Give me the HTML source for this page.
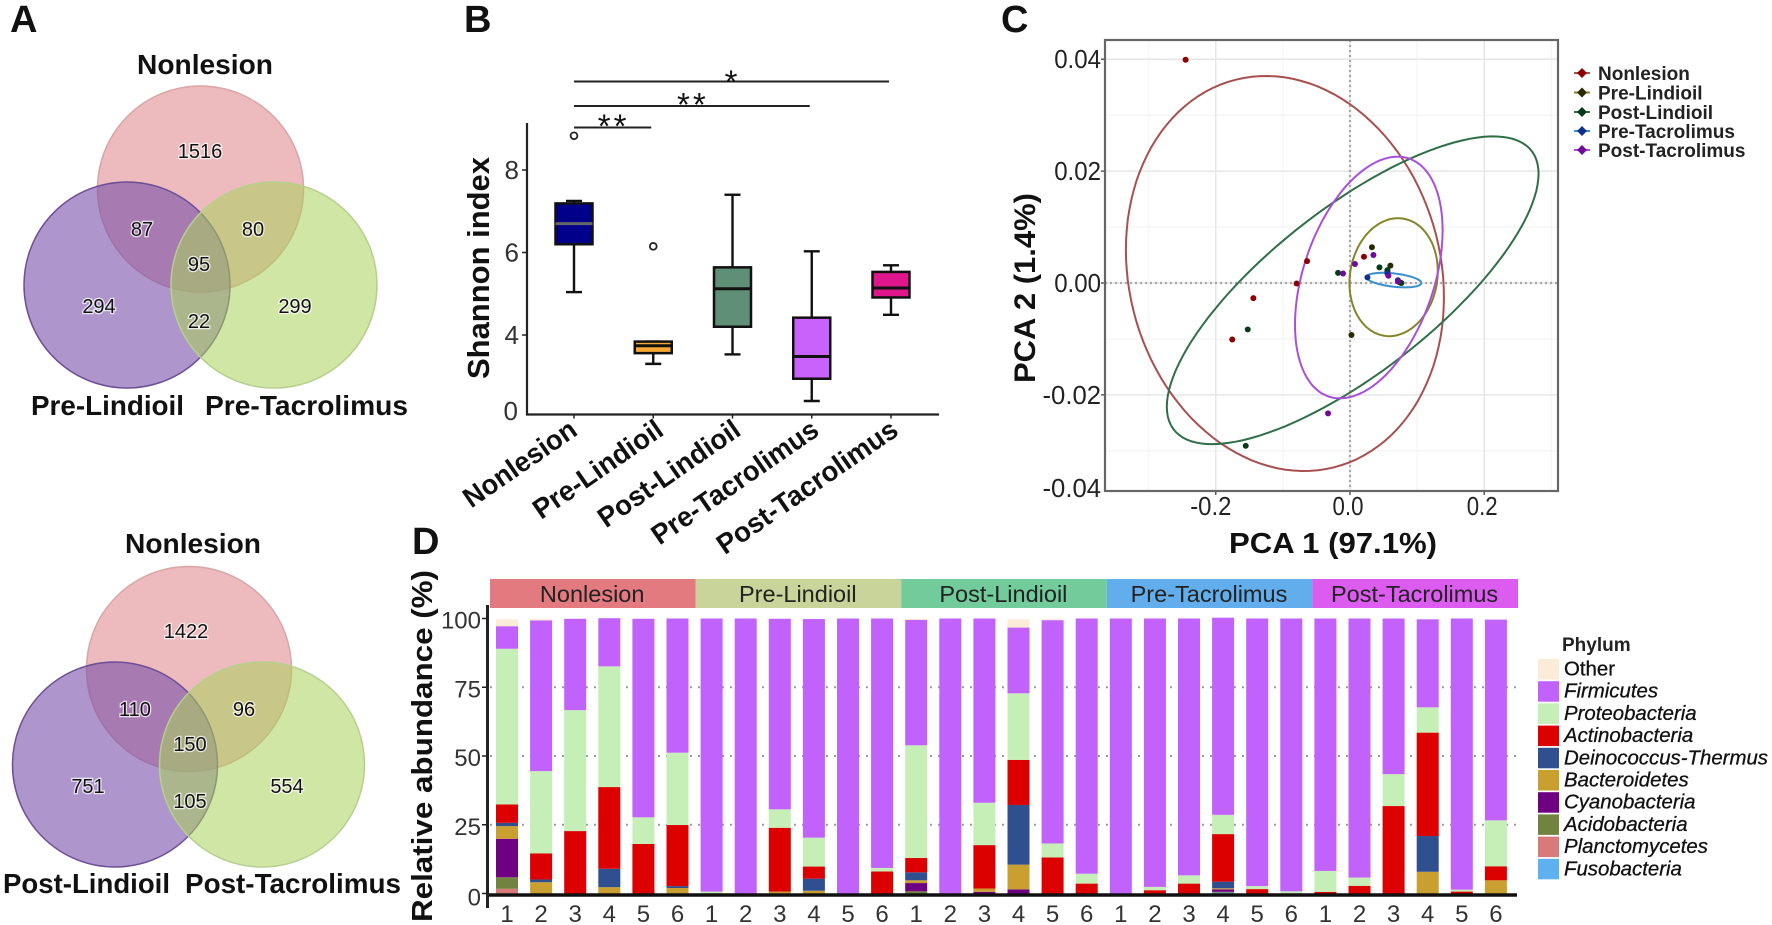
<!DOCTYPE html>
<html lang="en">
<head>
<meta charset="utf-8">
<title>Skin microbiome figure</title>
<style>
html,body{margin:0;padding:0;background:#fff;}
svg{display:block;font-family:"Liberation Sans",sans-serif;}
.panel{font-weight:bold;font-size:38px;fill:#111;}
.vt{font-weight:bold;font-size:28px;fill:#111;}
.vn{font-size:20px;fill:#111;text-anchor:middle;stroke:#fff;stroke-width:2.5px;paint-order:stroke;stroke-opacity:.75;}
</style>
</head>
<body>
<svg id="fig" xmlns="http://www.w3.org/2000/svg" width="1772" height="925" viewBox="0 0 1772 925">
  <text class="panel" x="10" y="32">A</text>
  <text class="panel" x="464" y="32">B</text>
  <text class="panel" x="1001" y="32">C</text>
  <text class="panel" x="412" y="554">D</text>

  <g>
    <circle cx="200.5" cy="189" r="103" fill="rgb(220,120,125)" fill-opacity=".5" stroke="#d9a5a5" stroke-width="1.5"/>
    <circle cx="127" cy="285" r="103" fill="rgb(120,80,170)" fill-opacity=".6" stroke="#6d4f96" stroke-width="1.5"/>
    <circle cx="274" cy="285" r="103" fill="rgb(170,210,90)" fill-opacity=".55" stroke="#b7cf8d" stroke-width="1.5"/>
    <text class="vt" x="205" y="74" text-anchor="middle" textLength="136" lengthAdjust="spacingAndGlyphs">Nonlesion</text>
    <text class="vt" x="31" y="415" textLength="153" lengthAdjust="spacingAndGlyphs">Pre-Lindioil</text>
    <text class="vt" x="205" y="415" textLength="203" lengthAdjust="spacingAndGlyphs">Pre-Tacrolimus</text>
    <text class="vn" x="200" y="158">1516</text>
    <text class="vn" x="142" y="236">87</text>
    <text class="vn" x="253" y="236">80</text>
    <text class="vn" x="199" y="271">95</text>
    <text class="vn" x="99" y="313">294</text>
    <text class="vn" x="199" y="328">22</text>
    <text class="vn" x="295" y="313">299</text>
  </g>

  <g>
    <circle cx="189" cy="669" r="102.5" fill="rgb(220,120,125)" fill-opacity=".5" stroke="#d9a5a5" stroke-width="1.5"/>
    <circle cx="115" cy="764.5" r="102.5" fill="rgb(120,80,170)" fill-opacity=".6" stroke="#6d4f96" stroke-width="1.5"/>
    <circle cx="262" cy="764.5" r="102.5" fill="rgb(170,210,90)" fill-opacity=".55" stroke="#b7cf8d" stroke-width="1.5"/>
    <text class="vt" x="193" y="553" text-anchor="middle" textLength="136" lengthAdjust="spacingAndGlyphs">Nonlesion</text>
    <text class="vt" x="3" y="893" textLength="167" lengthAdjust="spacingAndGlyphs">Post-Lindioil</text>
    <text class="vt" x="185" y="893" textLength="216" lengthAdjust="spacingAndGlyphs">Post-Tacrolimus</text>
    <text class="vn" x="186" y="638">1422</text>
    <text class="vn" x="135" y="716">110</text>
    <text class="vn" x="244" y="716">96</text>
    <text class="vn" x="190" y="751">150</text>
    <text class="vn" x="88" y="793">751</text>
    <text class="vn" x="190" y="808">105</text>
    <text class="vn" x="287" y="793">554</text>
  </g>

  <g id="chartB"></g>
  <g id="chartC"></g>
  <g id="chartD"></g>
</svg>

<script>
/* ---------- Panel B data ---------- */
var boxGroups = ['Nonlesion','Pre-Lindioil','Post-Lindioil','Pre-Tacrolimus','Post-Tacrolimus'];
var boxWhiskerHigh = [7.25,3.84,7.4,6.03,5.69];
var boxQ3 = [7.19,3.84,5.64,4.42,5.53];
var boxMedian = [6.7,3.74,5.12,3.48,5.14];
var boxQ1 = [6.2,3.56,4.2,2.94,4.91];
var boxWhiskerLow = [5.04,3.3,3.53,2.4,4.49];
var boxOutliers = [8.83,6.15,null,null,null];
var boxFills = ['#00008b','#f5a833','#5f8f77','#c862fa','#e0178c'];
var boxTicks = [8,6,4];
var boxBaseLabel = '0';
var sigFrom = [0,0,0];
var sigTo = [4,3,1];
var sigStars = ['*','**','**'];

/* ---------- Panel C data ---------- */
var pcaGroups = ['Nonlesion','Pre-Lindioil','Post-Lindioil','Pre-Tacrolimus','Post-Tacrolimus'];
var pcaLineColors = ['#a8504e','#85852c','#2f6f47','#3a8fd0','#a850d8'];
var pcaPointColors = ['#8b0000','#2a2a00','#063a1a','#10308a','#700a9a'];
var nonlesionX = [-0.245,-0.064,-0.0796,-0.144,-0.1755,0.0208];
var nonlesionY = [0.0399,0.0039,-0.0001,-0.0027,-0.0101,0.0047];
var preLindioilX = [0.0327,0.0602,0.0022,0.0558,0.0743];
var preLindioilY = [0.0064,0.0031,-0.0093,0.0021,0.0001];
var postLindioilX = [-0.0178,0.0439,-0.1524,-0.1554,0.0558,0.0766];
var postLindioilY = [0.0018,0.0028,-0.0083,-0.0291,0.0023,0];
var preTacrolimusX = [0.026,0.0714,0.0558];
var preTacrolimusY = [0.001,0.0005,0.0017];
var postTacrolimusX = [-0.0104,0.0349,0.0074,-0.0327,0.0572,0.0714];
var postTacrolimusY = [0.0017,0.005,0.0034,-0.0233,0.0013,0.0003];
var ellipseCenterX = [-0.097,0.065,0.004,0.0654,0.028];
var ellipseCenterY = [0.0017,0.00104,-0.0013,0.00052,0.00098];
var ellipseSpreadX = [0.237,0.0658,0.277,0.0409,0.11];
var ellipseSpreadY = [0.0353,0.01054,0.0275,0.0013,0.0216];
var ellipseCorr = [-0.12,0.1,0.757,-0.4,0.39];
var pcaXTicks = [-0.2,0,0.2];
var pcaXTickLabels = ['-0.2','0.0','0.2'];
var pcaXMinor = [-0.3,-0.1,0.1,0.3];
var pcaYTicks = [0.04,0.02,0,-0.02,-0.04];
var pcaYTickLabels = ['0.04','0.02','0.00','-0.02','-0.04'];
var pcaYMinor = [0.03,0.01,-0.01,-0.03];

/* ---------- Panel D data ---------- */
var facetNames = ['Nonlesion','Pre-Lindioil','Post-Lindioil','Pre-Tacrolimus','Post-Tacrolimus'];
var facetColors = ['#e27a80','#c8d49a','#72cb9b','#62aeec','#dc5cf0'];
var sampleLabels = ['1','2','3','4','5','6'];
var abundanceTicks = [100,75,50,25,0];
var phylumNames = ['Other','Firmicutes','Proteobacteria','Actinobacteria','Deinococcus-Thermus','Bacteroidetes','Cyanobacteria','Acidobacteria','Planctomycetes','Fusobacteria'];
var phylumColors = ['#faecd6','#c062fb','#c5efb7','#dc0000','#2f4f8f','#c9a02f','#6f0082','#71843f','#d97a7a','#5fb0ee'];
var other =          [2.5,.6,0,0,0,0, 0,0,0,0,0,0, .5,0,0,3,.5,0, 0,0,0,0,0,0, 0,0,0,0,0,0];
var firmicutes =     [8.2,54.8,33.2,17.5,72.2,48.8, 99.3,100,69.3,79.5,100,90.7, 45.6,100,67,23.9,81.2,92.8, 100,97.6,93.4,71.7,97.3,99.2, 91.8,94.2,56.6,32,98.6,73];
var proteobacteria = [56.6,29.9,44,43.9,9.7,26.3, .7,0,6.7,10.5,0,1.3, 41,0,15.4,24.2,5.1,3.6, 0,1.2,3,7,1.1,.8, 7.6,3,11.6,9.2,.7,16.7];
var actinobacteria = [6.7,9.5,22.7,29.7,18,22.2, 0,0,23.2,4.4,0,8, 5.2,0,15.8,16.4,13.1,3.6, 0,1.2,3.6,17.3,1.6,0, .6,2.8,31.8,37.6,.7,5.1];
var deinococcus =    [1.2,1,0,6.7,0,.7, 0,0,0,4.4,0,0, 2.9,0,0,21.7,0,0, 0,0,0,2.4,0,0, 0,0,0,13,0,0];
var bacteroidetes =  [4.6,4.1,0,2.3,0,2, 0,0,.7,1,0,0, 1,0,1.2,9,0,0, 0,0,0,.4,0,0, 0,0,0,7.9,0,4.8];
var cyanobacteria =  [14,0,0,0,0,0, 0,0,0,0,0,0, 3,0,.6,1.5,0,0, 0,0,0,.9,0,0, 0,0,0,0,0,0];
var acidobacteria =  [4.2,0,0,0,0,0, 0,0,0,0,0,0, .8,0,0,0,0,0, 0,0,0,.3,0,0, 0,0,0,0,0,0];
var planctomycetes = [1.7,0,0,0,0,0, 0,0,0,0,0,0, 0,0,0,0,0,0, 0,0,0,0,0,0, 0,0,0,0,0,0];
var fusobacteria =   [0,0,0,0,0,0, 0,0,0,0,0,0, 0,0,0,0,0,0, 0,0,0,.3,0,0, 0,0,0,0,0,0];

var NS = 'http://www.w3.org/2000/svg';
function mk(tag, attrs, parent, text) {
  var n = document.createElementNS(NS, tag);
  for (var k in attrs) { n.setAttribute(k, attrs[k]); }
  if (text !== undefined) { n.textContent = text; }
  parent.appendChild(n);
  return n;
}

/* ========== Panel B ========== */
(function () {
  var g = document.getElementById('chartB');
  function bx(i) { return 574 + i * 79.25; }
  function by(v) { return 170 + (8 - v) * 41.25; }
  var axisY = 414.5;
  var yAxis = mk('line', {x1:527,y1:123,x2:527,y2:axisY+1,stroke:'#222','stroke-width':2.2}, g);
  
  
  var xAxis = mk('line', {x1:526,y1:axisY,x2:939,y2:axisY,stroke:'#222','stroke-width':2.2}, g);
  
  
  boxTicks.forEach(function (t) {
    var m = mk('line', {x1:522,y1:by(t),x2:527,y2:by(t),stroke:'#222','stroke-width':1.5}, g);
    
    
    var l = mk('text', {x:519,y:by(t)+9,'text-anchor':'end','font-size':26,fill:'#333'}, g, String(t));
    
    
  });
  var base = mk('text', {x:518,y:axisY+5.5,'text-anchor':'end','font-size':26,fill:'#333'}, g, boxBaseLabel);
  
  
  var title = mk('text', {transform:'translate(489,268) rotate(-90)','text-anchor':'middle','font-size':31,'font-weight':'bold',fill:'#111',textLength:222,lengthAdjust:'spacingAndGlyphs'}, g, 'Shannon index');
  
  

  var lens = [131,151,166,196,213];
  var endShift = [5,12,10,9,9];
  boxGroups.forEach(function (name, i) {
    var c = bx(i), w = 18.5, cap = 8;
    var whisk = mk('line', {x1:c,y1:by(boxWhiskerHigh[i]),x2:c,y2:by(boxWhiskerLow[i]),stroke:'#111','stroke-width':2.4}, g);
    
    
    var capHi = mk('line', {x1:c-cap,y1:by(boxWhiskerHigh[i]),x2:c+cap,y2:by(boxWhiskerHigh[i]),stroke:'#111','stroke-width':2.4}, g);
    
    
    var capLo = mk('line', {x1:c-cap,y1:by(boxWhiskerLow[i]),x2:c+cap,y2:by(boxWhiskerLow[i]),stroke:'#111','stroke-width':2.4}, g);
    
    
    var box = mk('rect', {x:c-w,y:by(boxQ3[i]),width:2*w,height:by(boxQ1[i])-by(boxQ3[i]),fill:boxFills[i],stroke:'#111','stroke-width':2.5}, g);
    
    
    var med = mk('line', {x1:c-w,y1:by(boxMedian[i]),x2:c+w,y2:by(boxMedian[i]),stroke:i===0?'#666':'#111','stroke-width':3}, g);
    
    
    if (boxOutliers[i] !== null) {
      var o = mk('circle', {cx:c,cy:by(boxOutliers[i]),r:3.4,fill:'#fff',stroke:'#222','stroke-width':1.8}, g);
      
      
    }
    var tick = mk('line', {x1:c,y1:axisY,x2:c,y2:axisY+4,stroke:'#222','stroke-width':1.5}, g);
    
    
    var ex = c + endShift[i], ey = 434;
    var lab = mk('text', {transform:'translate('+ex+','+ey+') rotate(-34.7)','text-anchor':'end','font-size':28,'font-weight':'bold',fill:'#111',textLength:lens[i],lengthAdjust:'spacingAndGlyphs'}, g, name);
    
    
  });

  var sigY = [81.5,106,127.5];
  var starDrop = [12,10,10];
  sigFrom.forEach(function (f, i) {
    var x1 = bx(f), x2 = bx(sigTo[i]) - 2;
    var ln = mk('line', {x1:x1,y1:sigY[i],x2:x2,y2:sigY[i],stroke:'#222','stroke-width':2}, g);
    
    
    var st = mk('text', {x:(x1+x2)/2+1,y:sigY[i]+starDrop[i],'text-anchor':'middle','font-size':33,'letter-spacing':'3px',fill:'#111'}, g, sigStars[i]);
    
    
  });
})();

/* ========== Panel C ========== */
(function () {
  var g = document.getElementById('chartC');
  var L = 1105, R = 1558, T = 40, B = 491;
  function cx(v) { return 1350 + v * 671; }
  function cy(v) { return 283 - v * 5595; }
  var bg = mk('rect', {x:L,y:T,width:R-L,height:B-T,fill:'#fff'}, g);
  
  
  pcaXMinor.forEach(function (t) {
    var n = mk('line', {x1:cx(t),y1:T,x2:cx(t),y2:B,stroke:'#f3f3f3','stroke-width':1}, g);
    
    
  });
  pcaYMinor.forEach(function (t) {
    var n = mk('line', {x1:L,y1:cy(t),x2:R,y2:cy(t),stroke:'#f0f0f0','stroke-width':1}, g);
    
    
  });
  pcaXTicks.forEach(function (t, i) {
    var n = mk('line', {x1:cx(t),y1:T,x2:cx(t),y2:B,stroke:'#e6e6e6','stroke-width':1.5}, g);
    
    
    var m = mk('line', {x1:cx(t),y1:B,x2:cx(t),y2:B+4,stroke:'#333','stroke-width':1.2}, g);
    
    
    var l = mk('text', {x:cx(t)-(t<0?5:2),y:515,'text-anchor':'middle','font-size':26,fill:'#222',textLength:pcaXTickLabels[i].length*10.3,lengthAdjust:'spacingAndGlyphs'}, g, pcaXTickLabels[i]);
    
    
  });
  pcaYTicks.forEach(function (t, i) {
    var py = Math.min(cy(t), 488);
    if (cy(t) < B) {
      var n = mk('line', {x1:L,y1:cy(t),x2:R,y2:cy(t),stroke:'#e6e6e6','stroke-width':1.5}, g);
      
      
      var m = mk('line', {x1:L-4,y1:cy(t),x2:L,y2:cy(t),stroke:'#333','stroke-width':1.2}, g);
      
      
    }
    var l = mk('text', {x:1101,y:py+9,'text-anchor':'end','font-size':26,fill:'#222',textLength:pcaYTickLabels[i].length*11.7,lengthAdjust:'spacingAndGlyphs'}, g, pcaYTickLabels[i]);
    
    
  });
  var z1 = mk('line', {x1:cx(0),y1:T,x2:cx(0),y2:B,stroke:'#a8a8a8','stroke-width':2.2,'stroke-dasharray':'2 3'}, g);
  
  
  var z2 = mk('line', {x1:L,y1:cy(0),x2:R,y2:cy(0),stroke:'#a8a8a8','stroke-width':2.2,'stroke-dasharray':'2 3'}, g);
  
  

  pcaGroups.forEach(function (name, i) {
    var d = '', th = Math.acos(ellipseCorr[i]);
    for (var s = 0; s < 120; s++) {
      var t = s / 120 * 2 * Math.PI;
      var vx = ellipseCenterX[i] + ellipseSpreadX[i] * Math.cos(t);
      var vy = ellipseCenterY[i] + ellipseSpreadY[i] * Math.cos(t - th);
      d += (s ? 'L' : 'M') + cx(vx).toFixed(1) + ' ' + cy(vy).toFixed(1);
    }
    var e = mk('path', {d:d + 'Z',fill:'none',stroke:pcaLineColors[i],'stroke-width':2}, g);
    
    
  });

  var seriesX = [nonlesionX,preLindioilX,postLindioilX,preTacrolimusX,postTacrolimusX];
  var seriesY = [nonlesionY,preLindioilY,postLindioilY,preTacrolimusY,postTacrolimusY];
  seriesX.forEach(function (xs, i) {
    xs.forEach(function (v, j) {
      var p = mk('circle', {cx:cx(v),cy:cy(seriesY[i][j]),r:3,fill:pcaPointColors[i]}, g);
      
      
    });
  });

  var frame = mk('rect', {x:L,y:T,width:R-L,height:B-T,fill:'none',stroke:'#666','stroke-width':2.2}, g);
  
  
  var xt = mk('text', {x:1333,y:553,'text-anchor':'middle','font-size':29,'font-weight':'bold',fill:'#111',textLength:208,lengthAdjust:'spacingAndGlyphs'}, g, 'PCA 1 (97.1%)');
  
  
  var yt = mk('text', {transform:'translate(1035,288) rotate(-90)','text-anchor':'middle','font-size':30,'font-weight':'bold',fill:'#111',textLength:190,lengthAdjust:'spacingAndGlyphs'}, g, 'PCA 2 (1.4%)');
  
  

  var ly = [73,92.5,112,131,150];
  pcaGroups.forEach(function (name, i) {
    var k = mk('line', {x1:1574,y1:ly[i],x2:1590,y2:ly[i],stroke:pcaLineColors[i],'stroke-width':2}, g);
    
    
    var dm = mk('rect', {x:1578.5,y:ly[i]-3.5,width:7,height:7,fill:pcaPointColors[i],transform:'rotate(45 1582 '+ly[i]+')'}, g);
    
    
    var tx = mk('text', {x:1598,y:ly[i]+7,'font-size':19,'font-weight':'bold',fill:'#222'}, g, name);
    
    
  });
})();

/* ========== Panel D ========== */
(function () {
  var g = document.getElementById('chartD');
  var stackOrder = [fusobacteria,planctomycetes,acidobacteria,cyanobacteria,bacteroidetes,deinococcus,actinobacteria,proteobacteria,firmicutes,other];
  var stackColors = phylumColors.slice().reverse();
  var stackNames = phylumNames.slice().reverse();
  function dx(i) { return 507 + i * 34.1; }
  function dy(v) { return 893.5 - v * 2.75; }
  var stripL = 490, stripW = 205.6;
  facetNames.forEach(function (name, i) {
    var r = mk('rect', {x:stripL+i*stripW,y:579,width:stripW,height:29,fill:facetColors[i]}, g);
    
    
    var t = mk('text', {x:stripL+(i+.48)*stripW+3.5,y:602,'text-anchor':'middle','font-size':23.5,fill:'#222'}, g, name);
    
    
  });
  abundanceTicks.forEach(function (t) {
    var l = mk('text', {x:481,y:dy(t)+(t===0?12:10),'text-anchor':'end','font-size':24,fill:'#333'}, g, String(t));
    
    
    var m = mk('line', {x1:482,y1:dy(t),x2:488,y2:dy(t),stroke:'#222','stroke-width':1.5}, g);
    
    
    if (t > 0 && t < 100) {
      var gl = mk('line', {x1:490,y1:dy(t),x2:1517,y2:dy(t),stroke:'#9a9a9a','stroke-width':2,'stroke-dasharray':'2 6'}, g);
      
      
    }
  });
  firmicutes.forEach(function (_, i) {
    var acc = 0, x = dx(i);
    stackOrder.forEach(function (s, k) {
      var v = s[i];
      if (v > 0) {
        var b = mk('rect', {x:x-11,y:dy(acc+v),width:22,height:dy(acc)-dy(acc+v),fill:stackColors[k]}, g);
        
        
        acc += v;
      }
    });
    var lab = mk('text', {x:x,y:922,'text-anchor':'middle','font-size':24,fill:'#333'}, g, sampleLabels[i % 6]);
    
    
  });
  var xa = mk('line', {x1:486,y1:895,x2:1517,y2:895,stroke:'#111','stroke-width':3.5}, g);
  
  
  var ya = mk('line', {x1:487.5,y1:605,x2:487.5,y2:908,stroke:'#222','stroke-width':3}, g);
  
  
  var yt = mk('text', {transform:'translate(432,746) rotate(-90)','text-anchor':'middle','font-size':29,'font-weight':'bold',fill:'#111',textLength:352,lengthAdjust:'spacingAndGlyphs'}, g, 'Relative abundance (%)');
  
  

  var lt = mk('text', {x:1562,y:651,'font-size':19,'font-weight':'bold',fill:'#222'}, g, 'Phylum');
  
  
  phylumNames.forEach(function (name, i) {
    var yy = 659 + i * 22.2;
    var sw = mk('rect', {x:1538,y:yy,width:21,height:20.5,fill:phylumColors[i]}, g);
    
    
    var at = {x:1564,y:yy+16.5,'font-size':20.4,fill:'#111',stroke:'#111','stroke-width':.3};
    if (i > 0) { at['font-style'] = 'italic'; }
    var tx = mk('text', at, g, name);
    
    
  });
})();
</script>
</body>
</html>
